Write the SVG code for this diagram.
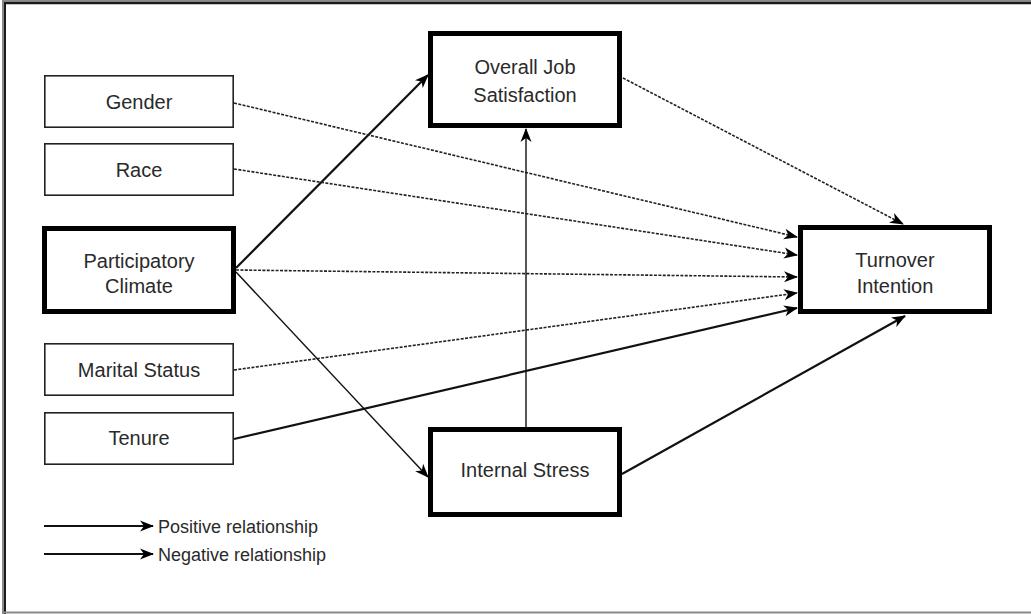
<svg xmlns="http://www.w3.org/2000/svg" width="1031" height="614" viewBox="0 0 1031 614">
<defs>
<style>
.thin{fill:#fff;stroke:#222;stroke-width:1.6}
.thick{fill:#fff;stroke:#000;stroke-width:5}
.lbl{font-family:"Liberation Sans",Arial,sans-serif;font-size:20px;fill:#2a2a2a;text-anchor:middle}
.leg{font-family:"Liberation Sans",Arial,sans-serif;font-size:18px;fill:#2a2a2a}
.dash{fill:none;stroke:#222;stroke-width:1.6;stroke-dasharray:3 1.4;marker-end:url(#ah)}
.solid{fill:none;stroke:#111;stroke-width:2.2;marker-end:url(#ah)}
.fine{fill:none;stroke:#111;stroke-width:1.4;marker-end:url(#ah)}
</style>
<marker id="ah" markerUnits="userSpaceOnUse" markerWidth="14" markerHeight="12" refX="13" refY="5.5" orient="auto" viewBox="0 0 14 11">
<path d="M0,0 L14,5.5 L0,11 L4,5.5 z" fill="#000"/>
</marker>
</defs>
<rect width="1031" height="614" fill="#fff"/>
<g id="frame">
<line x1="2" y1="0.9" x2="1031" y2="0.9" stroke="#8a8a8a" stroke-width="1.8"/>
<line x1="4" y1="3" x2="1031" y2="3" stroke="#1a1a1a" stroke-width="2.6"/>
<line x1="3" y1="0" x2="3" y2="614" stroke="#8a8a8a" stroke-width="2"/>
<line x1="5" y1="2" x2="5" y2="614" stroke="#1a1a1a" stroke-width="2"/>
<line x1="2" y1="612.5" x2="1031" y2="612.5" stroke="#8a8a8a" stroke-width="2"/>
</g>
<g id="connectors">
<line class="solid" x1="236" y1="268" x2="428" y2="75"/>
<line class="dash" x1="234" y1="103" x2="797" y2="237"/>
<line class="dash" x1="234" y1="169" x2="797" y2="255"/>
<line class="dash" x1="236" y1="270" x2="797" y2="277"/>
<line class="dash" x1="234" y1="370" x2="797" y2="293"/>
<line class="solid" x1="234" y1="439" x2="797" y2="308"/>
<line class="fine" x1="236" y1="272" x2="428" y2="477"/>
<line class="fine" x1="526" y1="427" x2="526" y2="129"/>
<line class="dash" x1="623" y1="78" x2="903" y2="224"/>
<line class="solid" x1="622" y1="474" x2="905" y2="316"/>
</g>
<g id="gender"><rect class="thin" x="44.8" y="75.8" width="188.4" height="51.4"/><text class="lbl" x="139" y="109">Gender</text></g>
<g id="race"><rect class="thin" x="44.8" y="143.8" width="188.4" height="51.4"/><text class="lbl" x="139" y="177">Race</text></g>
<g id="participatory-climate"><rect class="thick" x="44.5" y="228.5" width="189" height="83"/><text class="lbl" x="139" y="268">Participatory</text><text class="lbl" x="139" y="293">Climate</text></g>
<g id="marital-status"><rect class="thin" x="44.8" y="343.8" width="188.4" height="51.4"/><text class="lbl" x="139" y="377">Marital Status</text></g>
<g id="tenure"><rect class="thin" x="44.8" y="412.8" width="188.4" height="51.4"/><text class="lbl" x="139" y="445">Tenure</text></g>
<g id="overall-job-satisfaction"><rect class="thick" x="430.5" y="33.5" width="189" height="92"/><text class="lbl" x="525" y="74">Overall Job</text><text class="lbl" x="525" y="102">Satisfaction</text></g>
<g id="turnover-intention"><rect class="thick" x="800.5" y="227.5" width="189" height="84"/><text class="lbl" x="895" y="267">Turnover</text><text class="lbl" x="895" y="293">Intention</text></g>
<g id="internal-stress"><rect class="thick" x="430.5" y="429.5" width="189" height="85"/><text class="lbl" x="525" y="477">Internal Stress</text></g>
<g id="legend">
<line class="solid" x1="44" y1="526" x2="153" y2="526" style="stroke-width:1.8"/>
<text class="leg" x="158" y="533">Positive relationship</text>
<line class="solid" x1="44" y1="554" x2="153" y2="554" style="stroke-width:1.8"/>
<text class="leg" x="158" y="561">Negative relationship</text>
</g>
</svg>
